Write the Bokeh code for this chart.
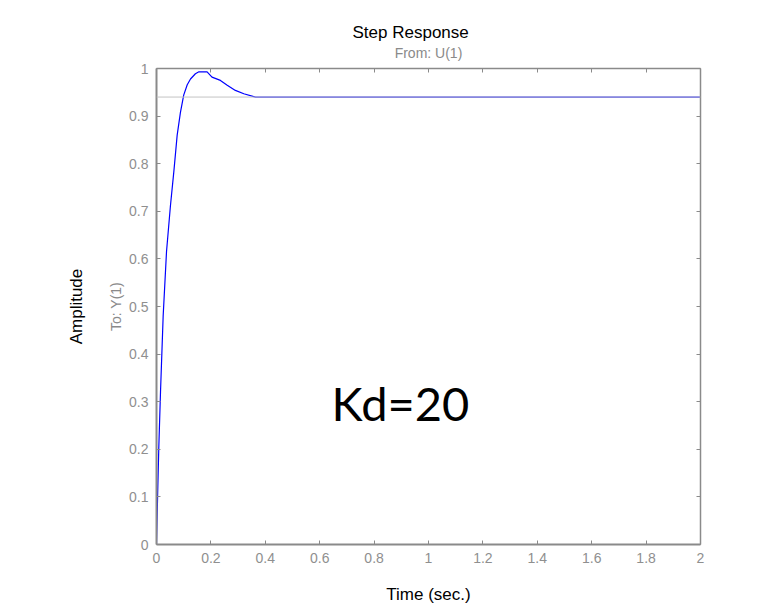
from bokeh.plotting import figure
from bokeh.models import Range1d, LinearAxis, Label, FixedTicker, Span, Title
from bokeh.embed import file_html
from bokeh.resources import INLINE

# data
t = [0, 0.004, 0.0085, 0.0147, 0.0245, 0.0368, 0.051, 0.064, 0.076, 0.088, 0.1,
     0.113, 0.125, 0.143, 0.156, 0.17, 0.186, 0.204, 0.235, 0.26, 0.29,
     0.321, 0.364, 2.0]
amp = [0, 0.1, 0.205, 0.32, 0.48, 0.615, 0.71, 0.785, 0.86, 0.908, 0.944,
       0.966, 0.978, 0.989, 0.993, 0.993, 0.993, 0.982, 0.975, 0.965, 0.954,
       0.947, 0.940, 0.940]
final_value = 0.94
x_ticks = [0, 0.2, 0.4, 0.6, 0.8, 1.0, 1.2, 1.4, 1.6, 1.8, 2.0]
x_tick_labels = ["0", "0.2", "0.4", "0.6", "0.8", "1", "1.2", "1.4", "1.6", "1.8", "2"]
y_ticks = [0, 0.1, 0.2, 0.3, 0.4, 0.5, 0.6, 0.7, 0.8, 0.9, 1.0]
y_tick_labels = ["0", "0.1", "0.2", "0.3", "0.4", "0.5", "0.6", "0.7", "0.8", "0.9", "1"]

p = figure(width=743, height=612, output_backend="svg", toolbar_location=None,
           x_range=Range1d(0, 2), y_range=Range1d(0, 1), title=None,
           min_border_left=156, min_border_right=43, min_border_top=68,
           min_border_bottom=68, x_axis_location=None, y_axis_location=None)
p.grid.visible = False
p.outline_line_color = None
p.background_fill_color = "white"
p.border_fill_color = "white"

GRAY = "#8a8a8a"
FONT = "Liberation Sans"

def make_axis(ticks, labels, show_labels, width):
    ax = LinearAxis(ticker=FixedTicker(ticks=ticks))
    ax.axis_line_color = GRAY
    ax.axis_line_width = width
    ax.major_tick_line_color = GRAY
    ax.major_tick_in = 4
    ax.major_tick_out = 0
    ax.minor_tick_line_color = None
    ax.major_label_text_font = FONT
    if show_labels:
        ax.major_label_overrides = {float(k): v for k, v in zip(ticks, labels)}
        ax.major_label_text_font_size = "14px"
        ax.major_label_text_color = "#8f8f8f"
    else:
        ax.major_label_overrides = {float(k): "" for k in ticks}
        ax.major_label_text_font_size = "1px"
        ax.major_label_standoff = 0
        ax.major_label_text_color = None
    ax.axis_label_text_font = FONT
    ax.axis_label_text_font_style = "normal"
    return ax

bottom = make_axis(x_ticks, x_tick_labels, True, 2)
bottom.major_label_standoff = 8
bottom.axis_label = "Time (sec.)"
bottom.axis_label_text_font_size = "17px"
bottom.axis_label_text_color = "black"
bottom.axis_label_standoff = 19

left = make_axis(y_ticks, y_tick_labels, True, 2)
left.major_label_standoff = 8
left.axis_label = "To: Y(1)"
left.axis_label_text_font_size = "14px"
left.axis_label_text_color = GRAY
left.axis_label_standoff = 2

left2 = LinearAxis(ticker=FixedTicker(ticks=[]), axis_line_color=None,
                   major_tick_line_color=None, minor_tick_line_color=None,
                   axis_label="Amplitude", axis_label_text_font=FONT,
                   axis_label_text_font_size="17px", axis_label_text_color="black",
                   axis_label_text_font_style="normal", axis_label_standoff=20)

top = make_axis(x_ticks, x_tick_labels, False, 1.5)
top.axis_label = "From: U(1)"
top.axis_label_text_font_size = "14px"
top.axis_label_text_color = GRAY
top.axis_label_standoff = 8
right = make_axis(y_ticks, y_tick_labels, False, 1.5)

p.add_layout(bottom, "below")
p.add_layout(left, "left")
p.add_layout(left2, "left")
p.add_layout(right, "right")
p.add_layout(top, "above")
p.add_layout(Title(text="Step Response", align="left", text_font=FONT,
                   text_font_size="17px", text_color="black", offset=196,
                   text_font_style="normal", standoff=0), "above")

p.add_layout(Span(location=final_value, dimension="width", line_color="#c4c4c4", line_width=1))
p.line(t, amp, line_color="#0000ff", line_width=1.2)

p.add_layout(Label(x=0.897, y=0.297, text="Kd=20", text_font="Lato",
                   text_font_size="47px", text_color="black",
                   text_align="center", text_baseline="middle"))

open("out.html", "w").write(file_html(p, INLINE))
